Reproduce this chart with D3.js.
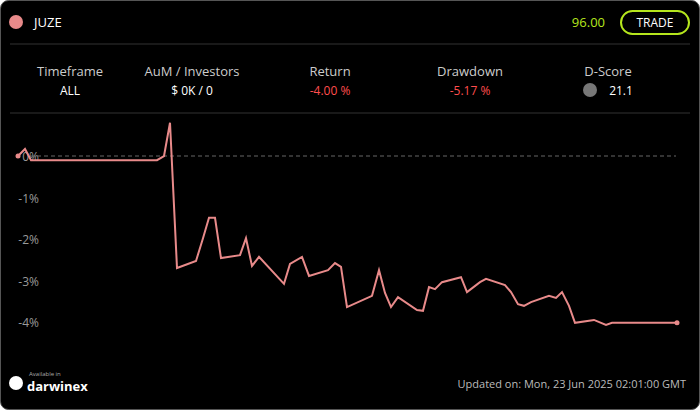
<!DOCTYPE html><html><head><meta charset="utf-8"><script src="https://cdn.jsdelivr.net/npm/d3@7"></script>
<style>body{margin:0;background:#fff}svg{display:block;font-family:"Open Sans",sans-serif}</style></head><body><svg width="700" height="410"></svg>
<script>
const days=[18,25,31,157,164,170,177,196,203,209,215,221,240,246,252,259,284,290,302,309,328,335,341,347,372,379,385,391,398,417,423,429,435,442,461,467,480,486,505,511,518,524,531,549,556,562,569,575,594,606,612,677];
const returns=[0,0.17,-0.10,-0.10,0,0.80,-2.70,-2.53,-1.98,-1.49,-1.49,-2.46,-2.39,-1.98,-2.65,-2.43,-3.08,-2.60,-2.43,-2.89,-2.75,-2.58,-2.67,-3.64,-3.37,-2.75,-3.30,-3.64,-3.40,-3.71,-3.73,-3.16,-3.21,-3.04,-2.92,-3.28,-3.04,-2.96,-3.11,-3.28,-3.57,-3.61,-3.52,-3.37,-3.42,-3.28,-3.61,-4.02,-3.95,-4.07,-4.02,-4.02];
const yTicks=[0,-1,-2,-3,-4];
const statLabels=["Timeframe","AuM / Investors","Return","Drawdown","D-Score"];
const statValues=["ALL","$ 0K / 0","-4.00 %","-5.17 %","21.1"];
const svg=d3.select("svg");
svg.append("rect").attr("x",0.5).attr("y",0.5).attr("width",699).attr("height",409).attr("rx",8).attr("fill","#000").attr("stroke","#555");
svg.append("circle").attr("cx",16).attr("cy",22).attr("r",7).attr("fill","#e88a8a");
svg.append("text").attr("x",34).attr("y",27).attr("fill","#fff").attr("font-size",13).text("JUZE");
svg.append("text").attr("x",605).attr("y",27).attr("text-anchor","end").attr("fill","#b5e61d").attr("font-size",13).text("96.00");
svg.append("rect").attr("x",621).attr("y",11).attr("width",68).attr("height",23).attr("rx",11.5).attr("fill","none").attr("stroke","#b5e61d").attr("stroke-width",2);
svg.append("text").attr("x",655).attr("y",27).attr("text-anchor","middle").attr("fill","#fff").attr("font-size",12).text("TRADE");
svg.append("line").attr("x1",10).attr("x2",690).attr("y1",44).attr("y2",44).attr("stroke","#333");
svg.append("line").attr("x1",10).attr("x2",690).attr("y1",113).attr("y2",113).attr("stroke","#333");
const cx=[70,192,330,470,608];
statLabels.forEach((l,i)=>{
 svg.append("text").attr("x",cx[i]).attr("y",76).attr("text-anchor","middle").attr("fill","#ccc").attr("font-size",13).text(l);
 const c=(i==2||i==3)?"#ff4d4d":"#fff";
 svg.append("text").attr("x",i==4?cx[i]+13:cx[i]).attr("y",95).attr("text-anchor","middle").attr("fill",c).attr("font-size",12).text(statValues[i]);
});
svg.append("circle").attr("cx",590).attr("cy",90).attr("r",7).attr("fill","#777");
const x=d3.scaleLinear().domain([18,677]).range([18,677]);
const y=d3.scaleLinear().domain([0,-4]).range([156,322]);
yTicks.forEach(t=>{svg.append("text").attr("x",39).attr("y",y(t)+5).attr("text-anchor","end").attr("fill","#999").attr("font-size",12).text(t+"%");});
svg.append("line").attr("x1",30).attr("x2",676).attr("y1",y(0)).attr("y2",y(0)).attr("stroke","#666").attr("stroke-dasharray","4,3");
const pts=days.map((d,i)=>[d,returns[i]]);
svg.append("path").datum(pts).attr("d",d3.line().x(d=>x(d[0])).y(d=>y(d[1]))).attr("fill","none").attr("stroke","#e88a8a").attr("stroke-width",2);
[pts[0],pts[pts.length-1]].forEach(p=>svg.append("circle").attr("cx",x(p[0])).attr("cy",y(p[1])).attr("r",2.5).attr("fill","#e88a8a"));
svg.append("text").attr("x",686).attr("y",388).attr("text-anchor","end").attr("fill","#bbb").attr("font-size",11).text("Updated on: Mon, 23 Jun 2025 02:01:00 GMT");
svg.append("circle").attr("cx",16).attr("cy",383).attr("r",7).attr("fill","#fff");
svg.append("text").attr("x",29).attr("y",376).attr("fill","#aaa").attr("font-size",6).text("Available in");
svg.append("text").attr("x",27).attr("y",391).attr("fill","#fff").attr("font-size",13).attr("font-weight","bold").text("darwinex");
</script></body></html>
